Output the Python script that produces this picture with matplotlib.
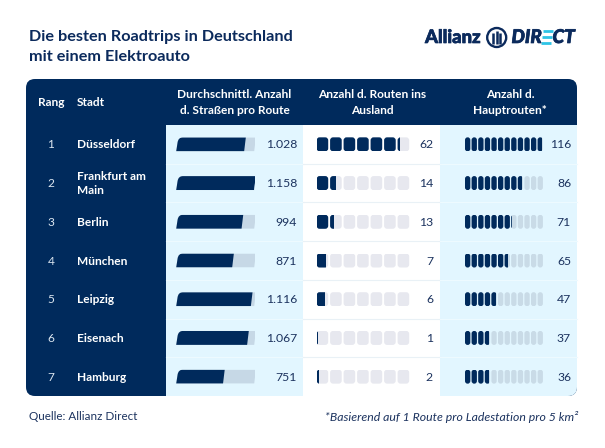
import matplotlib
matplotlib.use('Agg')
import matplotlib.pyplot as plt
import matplotlib.patheffects as pe
from matplotlib.patches import Circle, FancyBboxPatch, Rectangle
from matplotlib.path import Path
from matplotlib.transforms import Affine2D

plt.rcParams['font.family'] = ['Lato', 'DejaVu Sans']

# table content
ranks = [1, 2, 3, 4, 5, 6, 7]
cities = ['Düsseldorf', 'Frankfurt am\nMain', 'Berlin', 'München', 'Leipzig', 'Eisenach', 'Hamburg']
streets = [1028, 1158, 994, 871, 1116, 1067, 751]
street_labels = ['1.028', '1.158', '994', '871', '1.116', '1.067', '751']
abroad = [62, 14, 13, 7, 6, 1, 2]
main_routes = [116, 86, 71, 65, 47, 37, 36]

NAVY = '#002a5c'
TEXT = '#1c335f'
BAND = '#e2f6ff'
W, H = 605, 448
TOP, HEAD, BOTTOM = 79, 125, 396
LEFT, RIGHT = 26, 577
ROW_H = (BOTTOM - HEAD) / len(ranks)
BAR_H = 14


def row_center(i):
    return HEAD + ROW_H * (i + 0.5)


def col_axes(fig, x0, x1, xmax):
    # one axes per graphic column, its x scale runs over the column's data range
    ax = fig.add_axes([x0 / W, 1 - BOTTOM / H, (x1 - x0) / W, (BOTTOM - HEAD) / H])
    ax.set_xlim(0, xmax)
    ax.set_ylim(len(ranks) - 0.5, -0.5)
    ax.axis('off')
    return ax


def unit_path(x0, pitch, width, n, yc, radius):
    # rounded cells of one row, used as clip shape for the pictogram bars
    paths = []
    for k in range(n):
        box = FancyBboxPatch((x0 + k * pitch, yc - BAR_H / 2), width, BAR_H,
                             boxstyle=f'round,pad=0,rounding_size={radius}')
        paths.append(box.get_path())
    return Path.make_compound_path(*paths)


def pictogram(fig, bg, x0, pitch, width, n, unit, values, track):
    ax = col_axes(fig, x0, x0 + n * pitch, n * unit)
    radius = min(width / 2, 3)
    for i, v in enumerate(values):
        clip = unit_path(x0, pitch, width, n, row_center(i), radius)
        h = BAR_H / ROW_H
        for val, color in ((n * unit, track), (v, NAVY)):
            bar = ax.barh(i, val, height=h, color=color, linewidth=0)[0]
            bar.set_clip_path(clip, bg.transData)


fig = plt.figure(figsize=(W / 100, H / 100), dpi=100, facecolor='white')
bg = fig.add_axes([0, 0, 1, 1])
bg.set_xlim(0, W)
bg.set_ylim(H, 0)
bg.axis('off')

# table background
table = FancyBboxPatch((LEFT, TOP), RIGHT - LEFT, BOTTOM - TOP,
                       boxstyle='round,pad=0,rounding_size=9', fc=NAVY, ec='none')
bg.add_patch(table)
for x0, x1, color, line in [(166, 303, BAND, '#edfaff'), (303, 440, 'white', '#e9f1f6'), (440, RIGHT, BAND, '#edfaff')]:
    band = Rectangle((x0, HEAD), x1 - x0, BOTTOM - HEAD, fc=color, ec='none')
    bg.add_patch(band)
    band.set_clip_path(table)
    for i in range(1, len(ranks)):
        y = HEAD + ROW_H * i
        bg.plot([x0, x1], [y, y], color=line, lw=0.8)

# header
txt = dict(color='white', weight='bold', fontsize=8.6, va='center')
bg.text(51, 102, 'Rang', ha='center', **txt)
bg.text(77, 102, 'Stadt', ha='left', **txt)
for x, lines in [(234.5, ('Durchschnittl. Anzahl', 'd. Straßen pro Route')),
                 (372, ('Anzahl d. Routen ins', 'Ausland')),
                 (510, ('Anzahl d.', 'Hauptrouten*'))]:
    bg.text(x, 95, lines[0], ha='center', **txt)
    bg.text(x, 110, lines[1], ha='center', **txt)

# rows
for i in range(len(ranks)):
    y = row_center(i) + 0.6
    bg.text(51, y, str(ranks[i]), ha='center', va='center', color='#dce6f0', fontsize=8.6)
    bg.text(77, y, cities[i], ha='left', va='center', color='white', weight='bold',
            fontsize=8.6, linespacing=1.3)
    bg.text(297, y, street_labels[i], ha='right', va='center', color=TEXT, fontsize=8.8)
    bg.text(433, y, str(abroad[i]), ha='right', va='center', color=TEXT, fontsize=8.8)
    bg.text(571, y, str(main_routes[i]), ha='right', va='center', color=TEXT, fontsize=8.8)

# slanted street bars, the scale does not start at the visible left end in the original
SLANT = 0.12
ax_len = col_axes(fig, 166.6, 254.9, max(streets))
for i, v in enumerate(streets):
    y = row_center(i)
    top, bot = y - BAR_H / 2, y + BAR_H / 2
    outline = Path([(176.2, bot), (177.6, top + 5), (178.4, top), (183, top),
                    (255.9, top), (254.2, bot), (176.2, bot)],
                   [Path.MOVETO, Path.LINETO, Path.CURVE3, Path.CURVE3, Path.LINETO, Path.LINETO, Path.CLOSEPOLY])
    # display y runs upward, so the shear is about the row centre in pixels
    yc_disp = H - y
    shear = Affine2D().translate(0, -yc_disp).skew(SLANT, 0).translate(0, yc_disp)
    for val, color in ((max(streets) * 1.03, '#c6d8e6'), (v, NAVY)):
        bar = ax_len.barh(i, val, height=BAR_H / ROW_H, color=color, linewidth=0)[0]
        bar.set_transform(ax_len.transData + shear)
        bar.set_clip_path(outline, bg.transData)

pictogram(fig, bg, 316.6, 13.5, 11.6, 7, 10, abroad, '#e7e8ef')
pictogram(fig, bg, 465, 6.6, 5.3, 12, 10, main_routes, '#c9dbe7')

# title and footer
bg.text(29, 37, 'Die besten Roadtrips in Deutschland', color='#0b2a5c', weight='bold', fontsize=11.7, va='center')
bg.text(29, 57, 'mit einem Elektroauto', color='#0b2a5c', weight='bold', fontsize=11.7, va='center')
bg.text(29, 417, 'Quelle: Allianz Direct', color=TEXT, fontsize=8.4, va='center')
bg.text(578, 417, '*Basierend auf 1 Route pro Ladestation pro 5 km²', color=TEXT, style='italic',
        fontsize=8.8, va='center', ha='right')

# logo
heavy = [pe.withStroke(linewidth=0.5, foreground='#0b2a5c')]
bg.text(425, 37.5, 'Allianz', color='#0b2a5c', weight='black', fontsize=13.3, va='center', path_effects=heavy)
bg.add_patch(Circle((496.7, 37.5), 9.5, fc='none', ec='#0b2a5c', lw=1.7))
for dx, top in [(-3.6, 33), (0, 31), (3.6, 33)]:
    bg.plot([496.7 + dx, 496.7 + dx], [top, 44], color='#0b2a5c', lw=1.8, solid_capstyle='butt')
logo_font = dict(weight='black', style='italic', fontsize=13.6, va='center', path_effects=heavy)
bg.text(511.5, 37.5, 'DIR', color='#0b2a5c', **logo_font)
for y in (31.5, 37.5, 43.5):
    bg.plot([542 - (y - 37.5) * 0.2, 552 - (y - 37.5) * 0.2], [y, y], color='#2ec4e6', lw=2, solid_capstyle='butt')
bg.text(552.5, 37.5, 'CT', color='#0b2a5c', **logo_font)

fig.savefig('out.png', dpi=100)
